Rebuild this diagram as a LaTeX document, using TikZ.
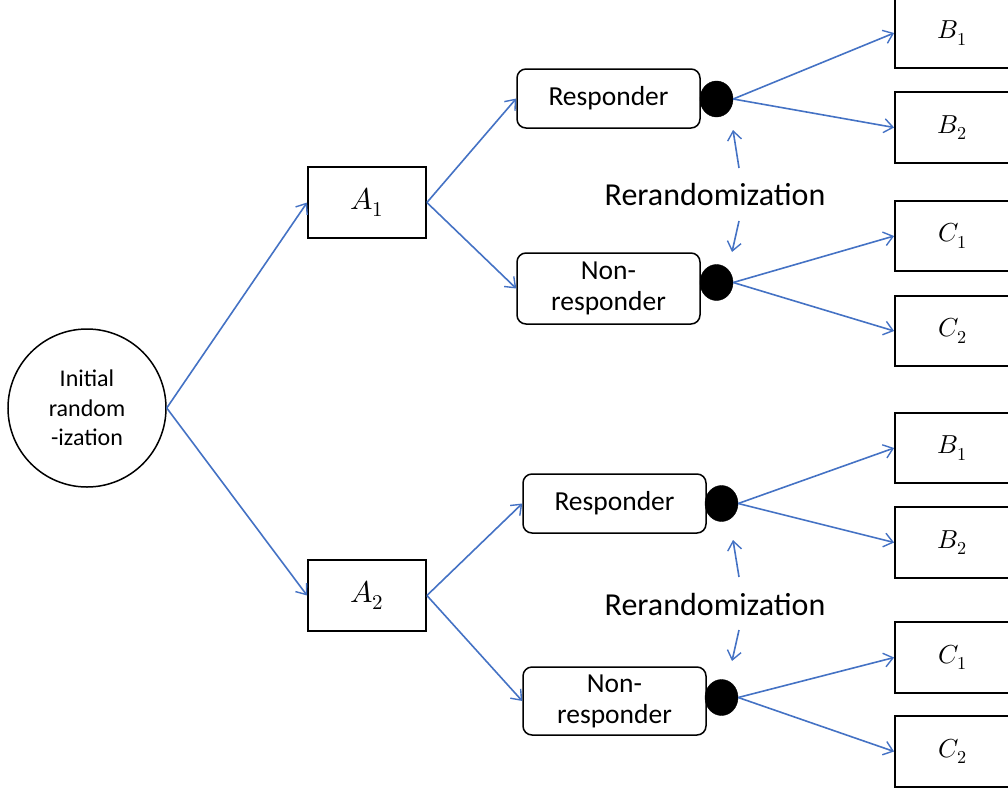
\documentclass[tikz,border=0pt]{standalone}
\usepackage{fontspec}
\usepackage{unicode-math}
\setmainfont{Carlito}
\setmathfont{Latin Modern Math}
\usetikzlibrary{arrows.meta,shapes.geometric}
\definecolor{arrowblue}{RGB}{68,114,196}
\tikzset{
  conn/.style={draw=arrowblue, line width=1.6pt, -{Straight Barb[length=9pt,width=14pt,line width=1.4pt]}},
  sbox/.style={draw=black, line width=1.8pt, rectangle, minimum width=118pt, minimum height=71pt, inner sep=0pt, font=\fontsize{30}{30}\selectfont},
  rbox/.style={draw=black, line width=1.8pt, rectangle, minimum width=115pt, minimum height=71pt, inner sep=0pt, font=\fontsize{26}{26}\selectfont},
  respbox/.style={draw=black, line width=1.5pt, rectangle, rounded corners=9pt, minimum width=183pt, inner sep=0pt, align=center, font=\fontsize{27.5}{31}\selectfont},
  dotnode/.style={fill=black, draw=black, ellipse, minimum width=33pt, minimum height=36pt, inner sep=0pt},
  rrtext/.style={font=\fontsize{32}{32}\selectfont, inner sep=0pt},
}
\begin{document}
\begin{tikzpicture}[x=1pt,y=-1pt]
\useasboundingbox (0,0) rectangle (1008,792);
\clip (0,0) rectangle (1008,792);
% initial randomization
\node[draw=black, line width=1.5pt, circle, minimum size=158pt, inner sep=0pt, align=center, font=\fontsize{24}{29.5}\selectfont] (init) at (87,408) {Initial\\random\\-ization};
% first stage
\node[sbox] (A1) at (367,202.5) {$A_1$};
\node[sbox] (A2) at (367,595.5) {$A_2$};
% responder boxes
\node[respbox, minimum height=59pt] (R1) at (608.5,98.5) {\raisebox{-2pt}{Responder}};
\node[respbox, minimum height=71pt] (N1) at (608.5,288.5) {Non-\\responder};
\node[respbox, minimum height=59pt] (R2) at (614.5,503.5) {\raisebox{-2pt}{Responder}};
\node[respbox, minimum height=68pt] (N2) at (614.5,701) {Non-\\responder};
% dots
\node[dotnode] (d1) at (716.5,99) {};
\node[dotnode] (d2) at (716.5,282.5) {};
\node[dotnode] (d3) at (721.5,503.5) {};
\node[dotnode] (d4) at (721.5,697.5) {};
% second stage boxes
\node[rbox, minimum height=70pt] (B1t) at (952.5,33) {$B_1$};
\node[rbox] (B2t) at (952.5,127.5) {$B_2$};
\node[rbox, minimum height=70pt] (C1t) at (952.5,236) {$C_1$};
\node[rbox, minimum height=70pt] (C2t) at (952.5,331) {$C_2$};
\node[rbox, minimum height=70pt] (B1b) at (952.5,448) {$B_1$};
\node[rbox] (B2b) at (952.5,542.5) {$B_2$};
\node[rbox] (C1b) at (952.5,657.5) {$C_1$};
\node[rbox] (C2b) at (952.5,751.5) {$C_2$};
% rerandomization labels
\node[rrtext] (rr1) at (715,195) {Rerandomization};
\node[rrtext] (rr2) at (715,604) {Rerandomization};
% coordinates for rerandomization arrows
\coordinate (u1s) at (739,168); \coordinate (u1e) at (733,130);
\coordinate (l1s) at (739,221); \coordinate (l1e) at (732,252);
\coordinate (u2s) at (739,577); \coordinate (u2e) at (733,540);
\coordinate (l2s) at (739,630); \coordinate (l2e) at (732,661);
% connectors
\draw[conn] (init.east) -- (A1.west);
\draw[conn] (init.east) -- (A2.west);
\draw[conn] (A1.east) -- (R1.west);
\draw[conn] (A1.east) -- (N1.west);
\draw[conn] (A2.east) -- (R2.west);
\draw[conn] (A2.east) -- (N2.west);
\draw[conn] (d1.east) -- (B1t.west);
\draw[conn] (d1.east) -- (B2t.west);
\draw[conn] (d2.east) -- (C1t.west);
\draw[conn] (d2.east) -- (C2t.west);
\draw[conn] (d3.east) -- (B1b.west);
\draw[conn] (d3.east) -- (B2b.west);
\draw[conn] (d4.east) -- (C1b.west);
\draw[conn] (d4.east) -- (C2b.west);
\draw[conn] (u1s) -- (u1e);
\draw[conn] (l1s) -- (l1e);
\draw[conn] (u2s) -- (u2e);
\draw[conn] (l2s) -- (l2e);
\end{tikzpicture}
\end{document}
